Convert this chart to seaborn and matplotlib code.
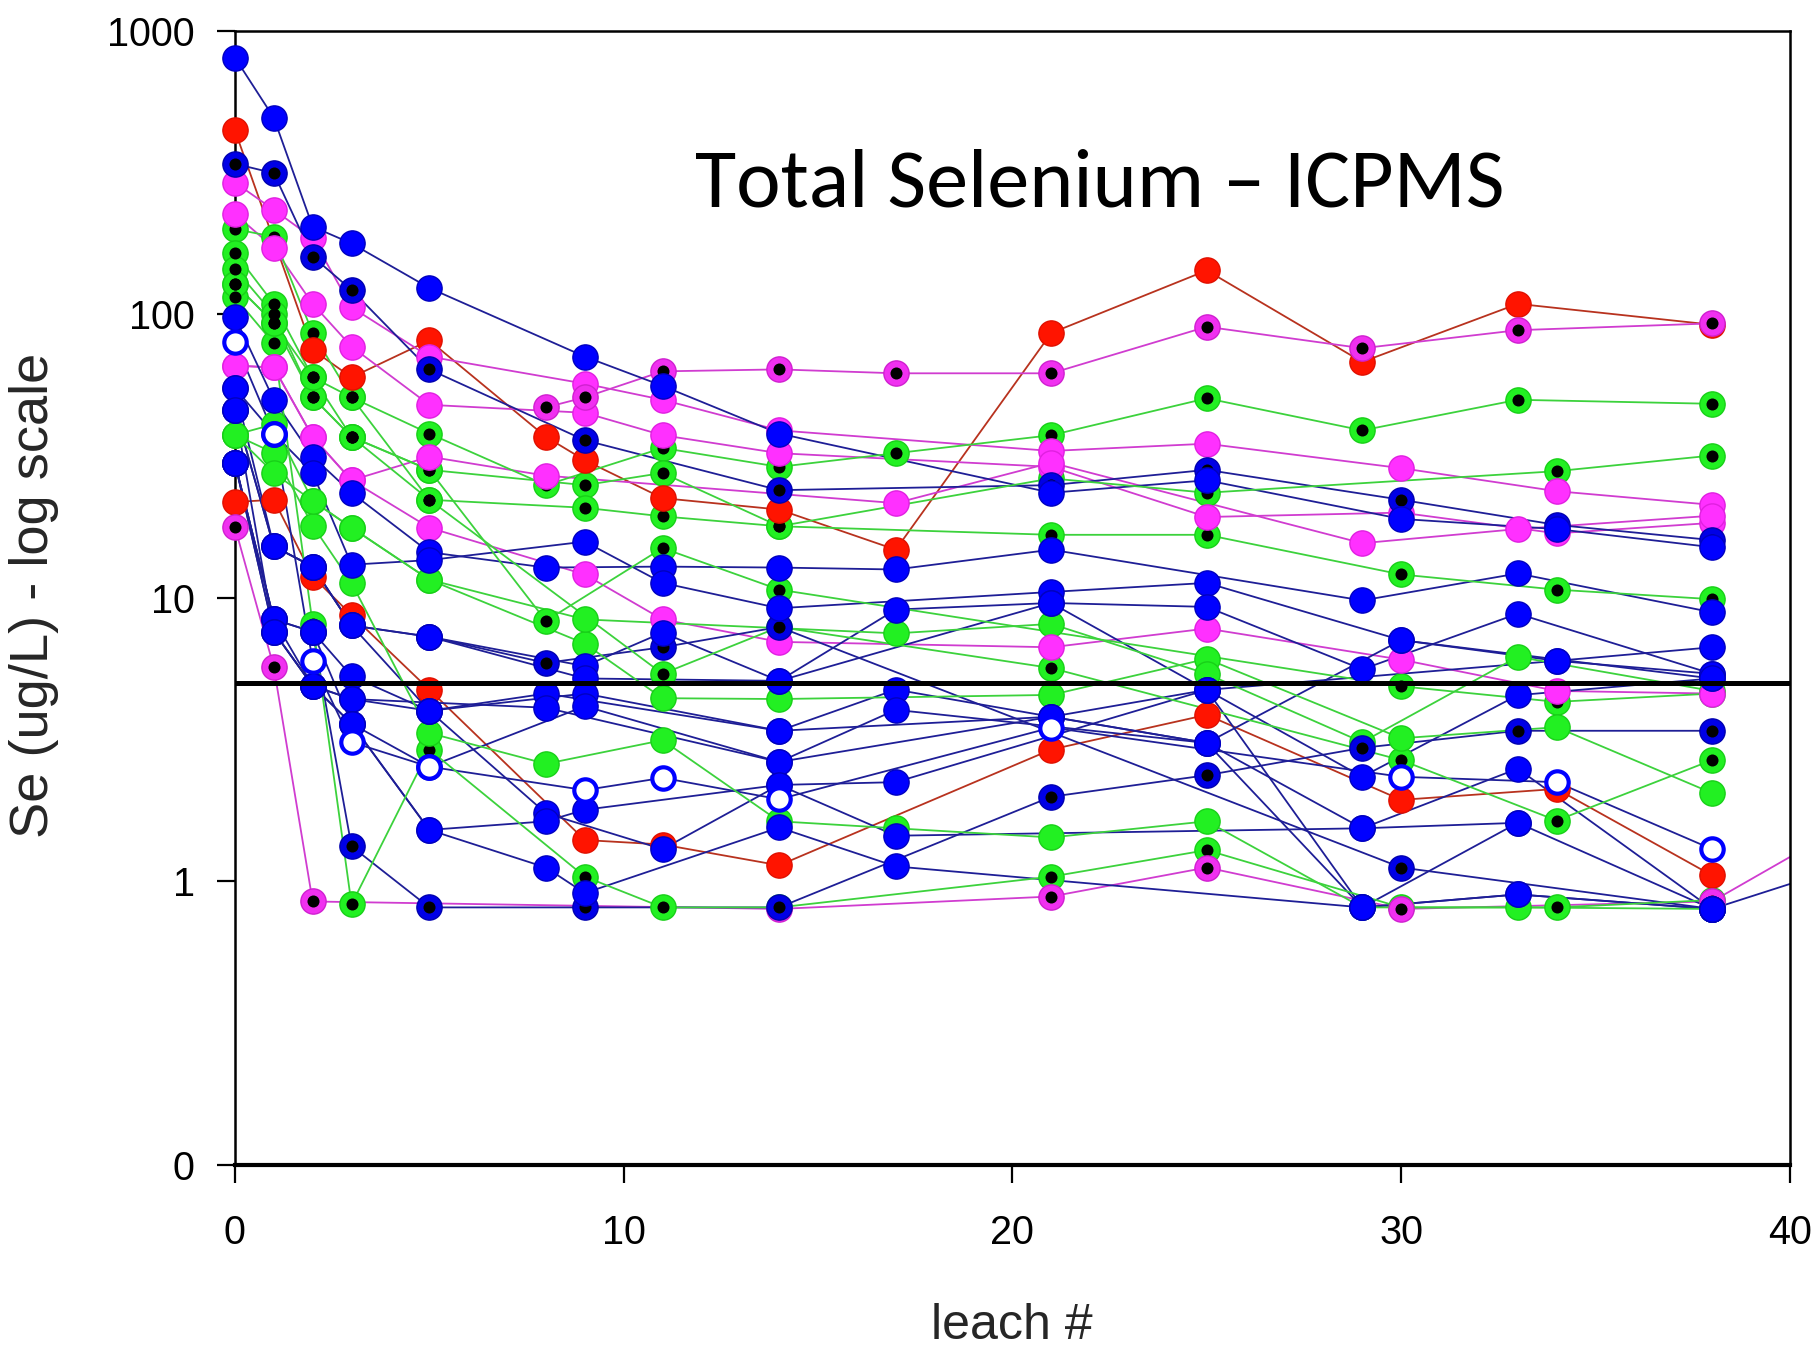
"""
Se total (ICPMS) em cada lixiviação, escala log, uma linha por amostra.
"""

import numpy as np
import pandas as pd
import seaborn as sns
import matplotlib.pyplot as plt
from matplotlib import font_manager
from matplotlib.ticker import NullLocator

N = np.nan

# leach # of every column (42 lies past the axis, only its line shows)
leach = [0, 1, 2, 3, 5, 8, 9, 11, 14, 17, 21, 25, 29, 30, 33, 34, 38, 42]

# red
red_1 = [446, N, 75, 60, 81, 37, 30.6, 22.5, 20.5, 14.8, 86, 143, 68, N, 109, N, 92, N]
red_2 = [21.8, 22.2, 11.9, 8.7, 4.75, N, 1.4, 1.35, 1.14, N, 2.92, 3.87, N, 1.94, N, 2.12, 1.05, N]

# magenta
mag_1 = [292, 234, 186, 106, 71, N, 57, 50, 39, N, 33, 35, N, 28.7, N, 23.8, 21.3, N]
mag_2 = [226, 172, 109, 77, 48, N, 45, 37.5, 32.4, N, 29, 19.3, N, 20, N, 16.9, 18.4, N]
mag_3 = [66, 65, 37, 26, 17.7, N, 12.1, 8.4, 7.0, N, 6.7, 7.8, N, 6.06, N, 4.7, 4.6, N]
mag_4 = [66, 65, 37, 26, 31.5, 27, N, N, N, 21.6, 30, N, 15.6, N, 17.5, N, 19.5, N]

# magenta, black centre
magk_1 = [N, N, N, N, N, 47, 51, 63, 64, 62, 62, 90.5, 76, N, 88, N, 93, N]
magk_2 = [17.8, 5.7, 0.85, N, N, N, N, N, 0.8, N, 0.885, 1.12, N, 0.8, N, N, 0.85, 1.75]

# blue
blu_1 = [805, 494, 204, 178, 124, N, 71, 56, 38, N, 23.5, 26, N, 19, N, 17.5, 15.1, N]
blu_2 = [98, 50, 31.5, 23.5, 14.5, 12.8, N, 12.9, 12.8, 12.6, 14.8, N, 9.8, N, 12.2, N, 8.9, N]
blu_3 = [55, 38, 27.6, 13.1, 13.6, N, 15.8, 11.3, 9.2, N, 10.5, 11.3, N, 7.1, N, 6.0, 6.7, N]
blu_4 = [46, 15.2, 12.9, 8.0, 7.3, N, 5.75, 7.55, 5.1, 9.1, 9.6, 9.3, 5.6, N, 8.8, N, 5.4, N]
blu_5 = [30, 8.4, 7.6, 5.3, 4.0, 4.6, N, N, 3.4, 4.75, 3.81, 4.74, 2.34, N, 4.54, N, 5.2, N]
blu_6 = [46, 7.6, 4.9, 4.4, N, 4.1, N, N, 2.64, 4.03, N, 3.08, 1.54, N, 2.5, N, 0.8, N]
blu_7 = [30, 8.4, 7.6, 3.6, 1.52, 1.12, 0.91, N, 1.55, 1.13, N, N, 0.81, N, 0.9, N, 0.8, 1.2]
blu_8 = [55, 15.2, 12.9, 8.0, 4.0, 1.74, N, 1.3, 2.19, 2.24, N, 4.74, 0.81, N, 1.61, N, N, N]
blu_9 = [46, 15.2, 12.9, 8.0, 7.3, N, 5.2, N, 5.1, N, 9.6, 4.74, N, N, N, 6.0, 5.4, N]
blu_10 = [30, 8.4, 4.9, 4.4, 4.0, N, 4.6, N, 3.4, N, 3.81, 3.08, N, 7.1, N, N, 5.2, N]
blu_11 = [30, 7.6, 4.9, 3.6, 2.54, N, 4.15, N, 2.64, N, 3.81, 3.08, 0.81, N, 0.9, N, 0.8, N]
blu_12 = [30, 7.6, 4.9, 3.6, 1.52, 1.63, 1.79, N, 2.19, 1.45, N, N, 1.54, N, 1.61, N, 0.8, N]

# blue, black centre
bluk_1 = [340, 315, 160, 122, 64, N, 36, N, 24, N, 25, 28.3, N, 22.2, N, 18.1, 16, N]
bluk_2 = [N, N, 7.6, 1.33, 0.81, N, 0.81, N, 0.81, N, 1.99, 2.37, 2.96, N, 3.4, N, 3.4, N]
bluk_3 = [N, N, N, N, 7.3, 5.9, N, 6.7, 7.9, N, N, N, N, 1.12, N, N, 0.8, N]

# blue, open
bluo_1 = [80, 38, 6.0, 3.1, 2.54, N, 2.1, 2.32, 1.95, N, 3.49, N, N, 2.34, N, 2.24, 1.3, N]

# green
grn_1 = [37.6, 41, 22, 17.7, 11.6, N, 6.9, 4.43, 4.4, N, 4.55, 6.1, N, 3.2, N, 3.5, 2.05, N]
grn_2 = [37.6, 32.5, 18, 11.3, 3.34, 2.6, N, 3.15, 1.63, 1.54, 1.43, 1.63, 0.81, N, 0.81, N, 0.8, N]
grn_3 = [37.6, 27.6, 22, 17.7, 11.6, N, 8.4, N, N, 7.5, 8.1, 5.4, 3.1, N, 6.2, N, 4.7, N]

# green, black centre
grnk_1 = [200, 188, 86, 51, 38, 25, N, 33.8, 29, 32.4, 37.5, 50.6, 39, N, 50, N, 48.4, N]
grnk_2 = [165, 109, 60, 37, 28.3, N, 25, 27.6, 17.9, N, 26.4, 23.5, N, N, N, 28, 31.8, N]
grnk_3 = [145, 100, 51, 37, 22.2, N, 20.8, 19.4, 17.9, N, 16.7, 16.7, N, 12.1, N, 10.7, 9.9, N]
grnk_4 = [128, 93.5, 51, 37, 28.3, 8.3, N, 15, 10.7, N, N, N, N, 4.88, N, 4.3, 4.6, N]
grnk_5 = [115, 79, 8.1, 0.83, 2.92, N, 1.04, 0.81, 0.81, N, 1.04, 1.29, N, 0.81, N, 0.81, 0.86, N]
grnk_6 = [128, 93.5, 60, 51, 22.2, N, N, 5.4, 7.9, N, 5.66, N, N, 2.68, N, 1.64, 2.68, N]

limite = 5  # linha horizontal de referência

series = {
    'red_1': ('red', red_1), 'red_2': ('red', red_2),
    'mag_1': ('magenta', mag_1), 'mag_2': ('magenta', mag_2),
    'mag_3': ('magenta', mag_3), 'mag_4': ('magenta', mag_4),
    'magk_1': ('magenta_dot', magk_1), 'magk_2': ('magenta_dot', magk_2),
    'blu_1': ('blue', blu_1), 'blu_2': ('blue', blu_2), 'blu_3': ('blue', blu_3),
    'blu_4': ('blue', blu_4), 'blu_5': ('blue', blu_5), 'blu_6': ('blue', blu_6),
    'blu_7': ('blue', blu_7), 'blu_8': ('blue', blu_8), 'blu_9': ('blue', blu_9),
    'blu_10': ('blue', blu_10), 'blu_11': ('blue', blu_11), 'blu_12': ('blue', blu_12),
    'bluk_1': ('blue_dot', bluk_1), 'bluk_2': ('blue_dot', bluk_2), 'bluk_3': ('blue_dot', bluk_3),
    'bluo_1': ('blue_open', bluo_1),
    'grn_1': ('green', grn_1), 'grn_2': ('green', grn_2), 'grn_3': ('green', grn_3),
    'grnk_1': ('green_dot', grnk_1), 'grnk_2': ('green_dot', grnk_2),
    'grnk_3': ('green_dot', grnk_3), 'grnk_4': ('green_dot', grnk_4),
    'grnk_5': ('green_dot', grnk_5), 'grnk_6': ('green_dot', grnk_6),
}

rows = []
for name, (kind, vals) in series.items():
    for x, v in zip(leach, vals):
        if not np.isnan(v):
            rows.append((name, kind, x, v))
df = pd.DataFrame(rows, columns=['series', 'kind', 'leach', 'se'])

line_col = {'red': '#b8321e', 'magenta': '#d03cd0', 'magenta_dot': '#d03cd0',
            'blue': '#1e1e96', 'blue_dot': '#1e1e96', 'blue_open': '#1e1e96',
            'green': '#3cd23c', 'green_dot': '#3cd23c'}
face = {'red': '#ff1400', 'magenta': '#ff30ff', 'magenta_dot': '#f030f0',
        'blue': '#0000ff', 'blue_dot': '#0000e6', 'blue_open': 'white',
        'green': '#22f022', 'green_dot': '#22f022'}
edge = {'red': '#e01000', 'magenta': '#e020e0', 'magenta_dot': '#d020d0',
        'blue': '#0000c0', 'blue_dot': '#0000b0', 'blue_open': '#0000ff',
        'green': '#18d018', 'green_dot': '#18d018'}
ordem = ['green_dot', 'green', 'red', 'magenta', 'magenta_dot', 'blue_dot', 'blue', 'blue_open']

sns.set_theme(style='ticks')
names = {f.name for f in font_manager.fontManager.ttflist}
plt.rcParams['font.family'] = ['Liberation Sans', 'DejaVu Sans']
titulo_font = 'Carlito' if 'Carlito' in names else ('Open Sans' if 'Open Sans' in names else 'DejaVu Sans')

fig = plt.figure(figsize=(18.14, 13.51), dpi=100)
ax = fig.add_axes([0.1295, 0.1377, 0.8572, 0.8394])
ax.set_yscale('log')

palette = {name: line_col[kind] for name, (kind, _) in series.items()}
sns.lineplot(data=df, x='leach', y='se', hue='series', palette=palette, estimator=None,
             lw=1.3, legend=False, ax=ax, zorder=2)

pts = df[df['leach'] <= 40]
z = 3
for k in ordem:
    sub = pts[pts['kind'] == k]
    lw = 3.0 if k == 'blue_open' else 1.0
    size = 260 if k == 'blue_open' else 330
    sns.scatterplot(data=sub, x='leach', y='se', color=face[k], edgecolor=edge[k], s=size,
                    linewidth=lw, legend=False, ax=ax, zorder=z, clip_on=False)
    z += 0.1
    if k.endswith('_dot'):
        sns.scatterplot(data=sub, x='leach', y='se', color='black', s=75, linewidth=0,
                        legend=False, ax=ax, zorder=z, clip_on=False)
        z += 0.1

ax.axhline(limite, color='black', lw=3.6, zorder=10)

ax.set_xlim(0, 40)
ax.set_ylim(0.1, 1000)
ax.set_xticks([0, 10, 20, 30, 40])
ax.set_xticklabels(['0', '10', '20', '30', '40'])
ax.set_yticks([0.1, 1, 10, 100, 1000])
ax.set_yticklabels(['0', '1', '10', '100', '1000'])
ax.yaxis.set_minor_locator(NullLocator())
ax.tick_params(axis='both', direction='out', length=13, width=1.6, labelsize=28.5, colors='black')
ax.tick_params(axis='x', pad=22)
ax.tick_params(axis='y', pad=16)
ax.set_xlabel('')
ax.set_ylabel('')
for s in ax.spines.values():
    s.set_linewidth(1.8)
    s.set_color('black')
ax.spines['bottom'].set_linewidth(3)

titulo = fig.text(0.606, 0.8475, 'Total Selenium – ICPMS', ha='center', va='baseline',
                  fontsize=60, family=titulo_font, color='black', zorder=20)
ylab = fig.text(0.0187, 0.559, 'Se (ug/L) - log scale', rotation=90, ha='center',
                va='center', fontsize=36)
xlab = fig.text(0.5579, 0.009, 'leach #', ha='center', va='baseline', fontsize=36)

# ajusta os tamanhos de fonte para a largura medida no original
fig.canvas.draw()
r = fig.canvas.get_renderer()
for txt, alvo, eixo in [(titulo, 810, 'w'), (ylab, 486, 'h'), (xlab, 162, 'w')]:
    bb = txt.get_window_extent(r)
    atual = bb.width if eixo == 'w' else bb.height
    txt.set_fontsize(txt.get_fontsize() * alvo / atual)

plt.savefig('out.png', dpi=100)
